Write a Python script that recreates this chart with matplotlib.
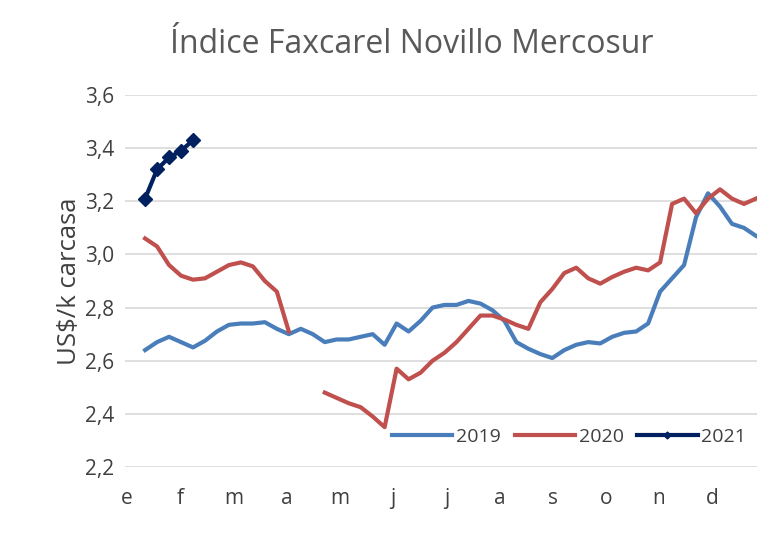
import numpy as np
import matplotlib
matplotlib.use("Agg")
import matplotlib.pyplot as plt

# weekly values, US$/kg carcasa
meses = ["e", "f", "m", "a", "m", "j", "j", "a", "s", "o", "n", "d"]

v2019 = [2.64, 2.67, 2.69, 2.67, 2.65, 2.675, 2.71, 2.735, 2.74, 2.74, 2.745, 2.72,
         2.70, 2.72, 2.70, 2.67, 2.68, 2.68, 2.69, 2.70, 2.66, 2.74, 2.71, 2.75,
         2.80, 2.81, 2.81, 2.825, 2.815, 2.79, 2.75, 2.67, 2.645, 2.625, 2.61, 2.64,
         2.66, 2.67, 2.665, 2.69, 2.705, 2.71, 2.74, 2.86, 2.91, 2.96, 3.14, 3.23,
         3.18, 3.115, 3.10, 3.07]

v2020 = [3.06, 3.03, 2.96, 2.92, 2.905, 2.91, 2.935, 2.96, 2.97, 2.955, 2.90, 2.86,
         2.71, np.nan, np.nan, 2.48, 2.46, 2.44, 2.425, 2.39, 2.35, 2.57, 2.53, 2.555,
         2.60, 2.63, 2.67, 2.72, 2.77, 2.77, 2.755, 2.735, 2.72, 2.82, 2.87, 2.93,
         2.95, 2.91, 2.89, 2.915, 2.935, 2.95, 2.94, 2.97, 3.19, 3.21, 3.155, 3.21,
         3.245, 3.21, 3.19, 3.21]

v2021 = [3.21, 3.32, 3.365, 3.39, 3.43]

plt.rcParams['font.family'] = ['Open Sans', 'DejaVu Sans']

def semana_x(n):
    # week index -> position on a month axis (0 = start of january)
    return (np.arange(n) + 1.5) * 12 / 53.3

fig = plt.figure(figsize=(7.77, 5.42), dpi=100)
ax = fig.add_axes([125/777, 75/542, 632/777, 372/542])

ax.plot(semana_x(len(v2019)), v2019, color="#4A7EBB", lw=3, label="2019")
ax.plot(semana_x(len(v2020)), v2020, color="#C0504D", lw=3, label="2020")
ax.plot(semana_x(len(v2021)), v2021, color="#002060", lw=3, marker="D", ms=7, label="2021")

ax.set_xlim(-0.04, 11.84)
ax.set_ylim(2.2, 3.6)
ticks = np.arange(2.2, 3.61, 0.2)
ax.set_yticks(ticks)
ax.set_yticklabels([f"{t:.1f}".replace(".", ",") for t in ticks])
ax.set_xticks(range(12))
ax.set_xticklabels(meses)
ax.tick_params(length=0, labelsize=15, colors="#404040")
ax.tick_params(axis="y", pad=8)
ax.tick_params(axis="x", pad=15)
ax.grid(axis="y", color="#D9D9D9", lw=1.2)
ax.set_axisbelow(True)
for s in ax.spines.values():
    s.set_visible(False)

ax.set_ylabel("US$/k carcasa", fontsize=18.5, color="#404040", labelpad=2)
fig.text(0.53, 0.917, "Índice Faxcarel Novillo Mercosur", fontsize=23,
         color="#595959", ha="center", va="center")

leg = ax.legend(loc="center left", bbox_to_anchor=(0.4225, 0.081), ncol=3, frameon=False,
                fontsize=14, handlelength=3.1, columnspacing=0.7, handletextpad=0.2,
                labelcolor="#404040", borderaxespad=0, borderpad=0, markerscale=0.5)

fig.savefig("out.png", dpi=100)
